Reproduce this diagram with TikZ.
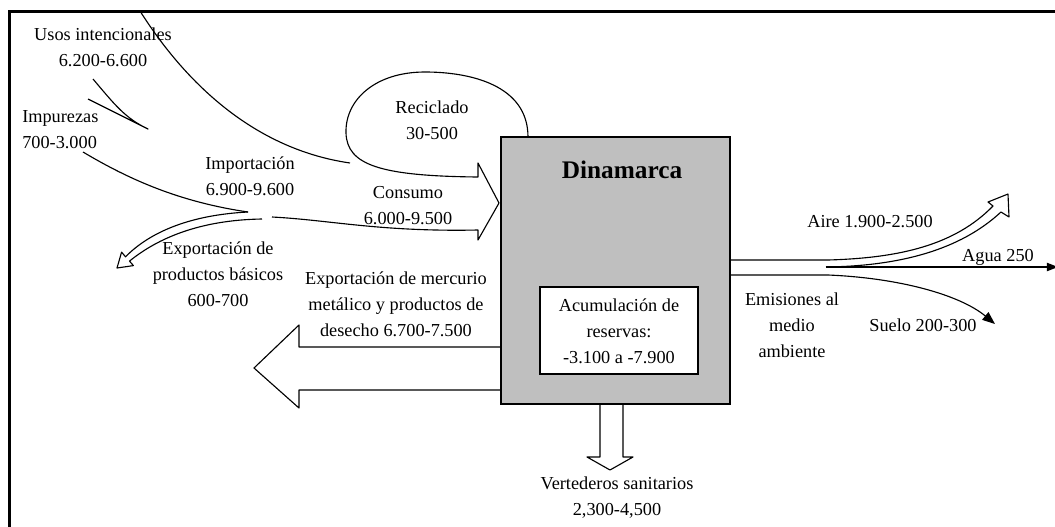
\documentclass[tikz,border=0pt]{standalone}
\usepackage{fontspec}
\setmainfont{Liberation Serif}
\usetikzlibrary{arrows.meta}

\tikzset{
  lbl/.style={font=\fontsize{13}{18.5}\selectfont, align=center, inner sep=0pt},
  flow/.style={line width=0.8pt, line join=round}
}

\begin{document}
\begin{tikzpicture}[x=0.025cm, y=-0.025cm]
    \useasboundingbox (0,0) rectangle (1055,527);
    \draw[line width=1.5pt] (9.5,540) -- (9.5,11.5) -- (1070,11.5);

    % inputs
    \draw[flow] (140,11) .. controls (190,90) and (260,150) .. (350,163);
    \draw[flow] (93,79) .. controls (115,105) and (125,118) .. (148,129) -- (88,99);
    \draw[flow] (83,152) .. controls (130,180) and (180,202) .. (248,212);
    \draw[flow] (248,212) .. controls (190,215) and (150,232) .. (125.5,256.8)
      -- (121.6,252.1) -- (117,268) -- (133.4,265.6) -- (129.5,261.1)
      .. controls (158,238) and (200,220) .. (262,219);
    \draw[flow] (528,137) .. controls (528,85) and (470,72) .. (425,72)
      .. controls (375,72) and (345,100) .. (346,133)
      .. controls (347,165) and (380,176) .. (478,177)
      -- (478,163) -- (499,203) -- (478,240) -- (478,230)
      .. controls (380,232) and (330,220) .. (272,217);

    % outputs
    \draw[flow] (501,347) -- (299,347) -- (299,325) -- (254,368) -- (299,408) -- (299,390) -- (501,390);
    \draw[flow] (600,404) -- (600,457) -- (587,457) -- (610,470) -- (633,457) -- (623,457) -- (623,404);
    \draw[flow] (730,260) -- (828,260) .. controls (900,258) and (955,245) .. (993,206)
      -- (988,202) -- (1008,194) -- (1009,217) -- (1001,212)
      .. controls (960,250) and (900,266) .. (826,267);
    \draw[flow, -{Triangle[length=8pt,width=6pt]}] (826,267) -- (1058,267);
    \draw[flow, -{Triangle[length=9pt,width=7pt]}] (730,275) -- (828,275) .. controls (900,278) and (960,295) .. (995,324);

    % country
    \draw[line width=1pt, fill=black!25] (501,137) rectangle (730,404);
    \draw[line width=0.8pt, fill=white] (540,287) rectangle (698,374);
    \node[inner sep=0pt, font=\fontsize{18}{20}\selectfont\bfseries] (dk) at (622,170) {Dinamarca};
    \node[lbl] (acum) at (619,331) {Acumulación de\\reservas:\\-3.100 a -7.900};

    % labels
    \node[lbl] (usos) at (103,47) {Usos intencionales\\6.200-6.600};
    \node[lbl, align=left, anchor=west] (imp) at (22,130) {Impurezas\\700-3.000};
    \node[lbl] (import) at (250,176) {Importación\\6.900-9.600};
    \node[lbl] (expb) at (218,274) {Exportación de\\productos básicos\\600-700};
    \node[lbl] (recic) at (432,120) {Reciclado\\30-500};
    \node[lbl] (cons) at (408,206) {Consumo\\6.000-9.500};
    \node[lbl] (expm) at (396,304) {Exportación de mercurio\\metálico y productos de\\desecho 6.700-7.500};
    \node[lbl] (aire) at (870,222) {Aire 1.900-2.500};
    \node[lbl] (agua) at (998,257) {Agua 250};
    \node[lbl] (emis) at (792,325) {Emisiones al\\medio\\ambiente};
    \node[lbl] (suelo) at (923,325) {Suelo 200-300};
    \node[lbl] (vert) at (617,498) {Vertederos sanitarios\\2,300-4,500};
\end{tikzpicture}
\end{document}
